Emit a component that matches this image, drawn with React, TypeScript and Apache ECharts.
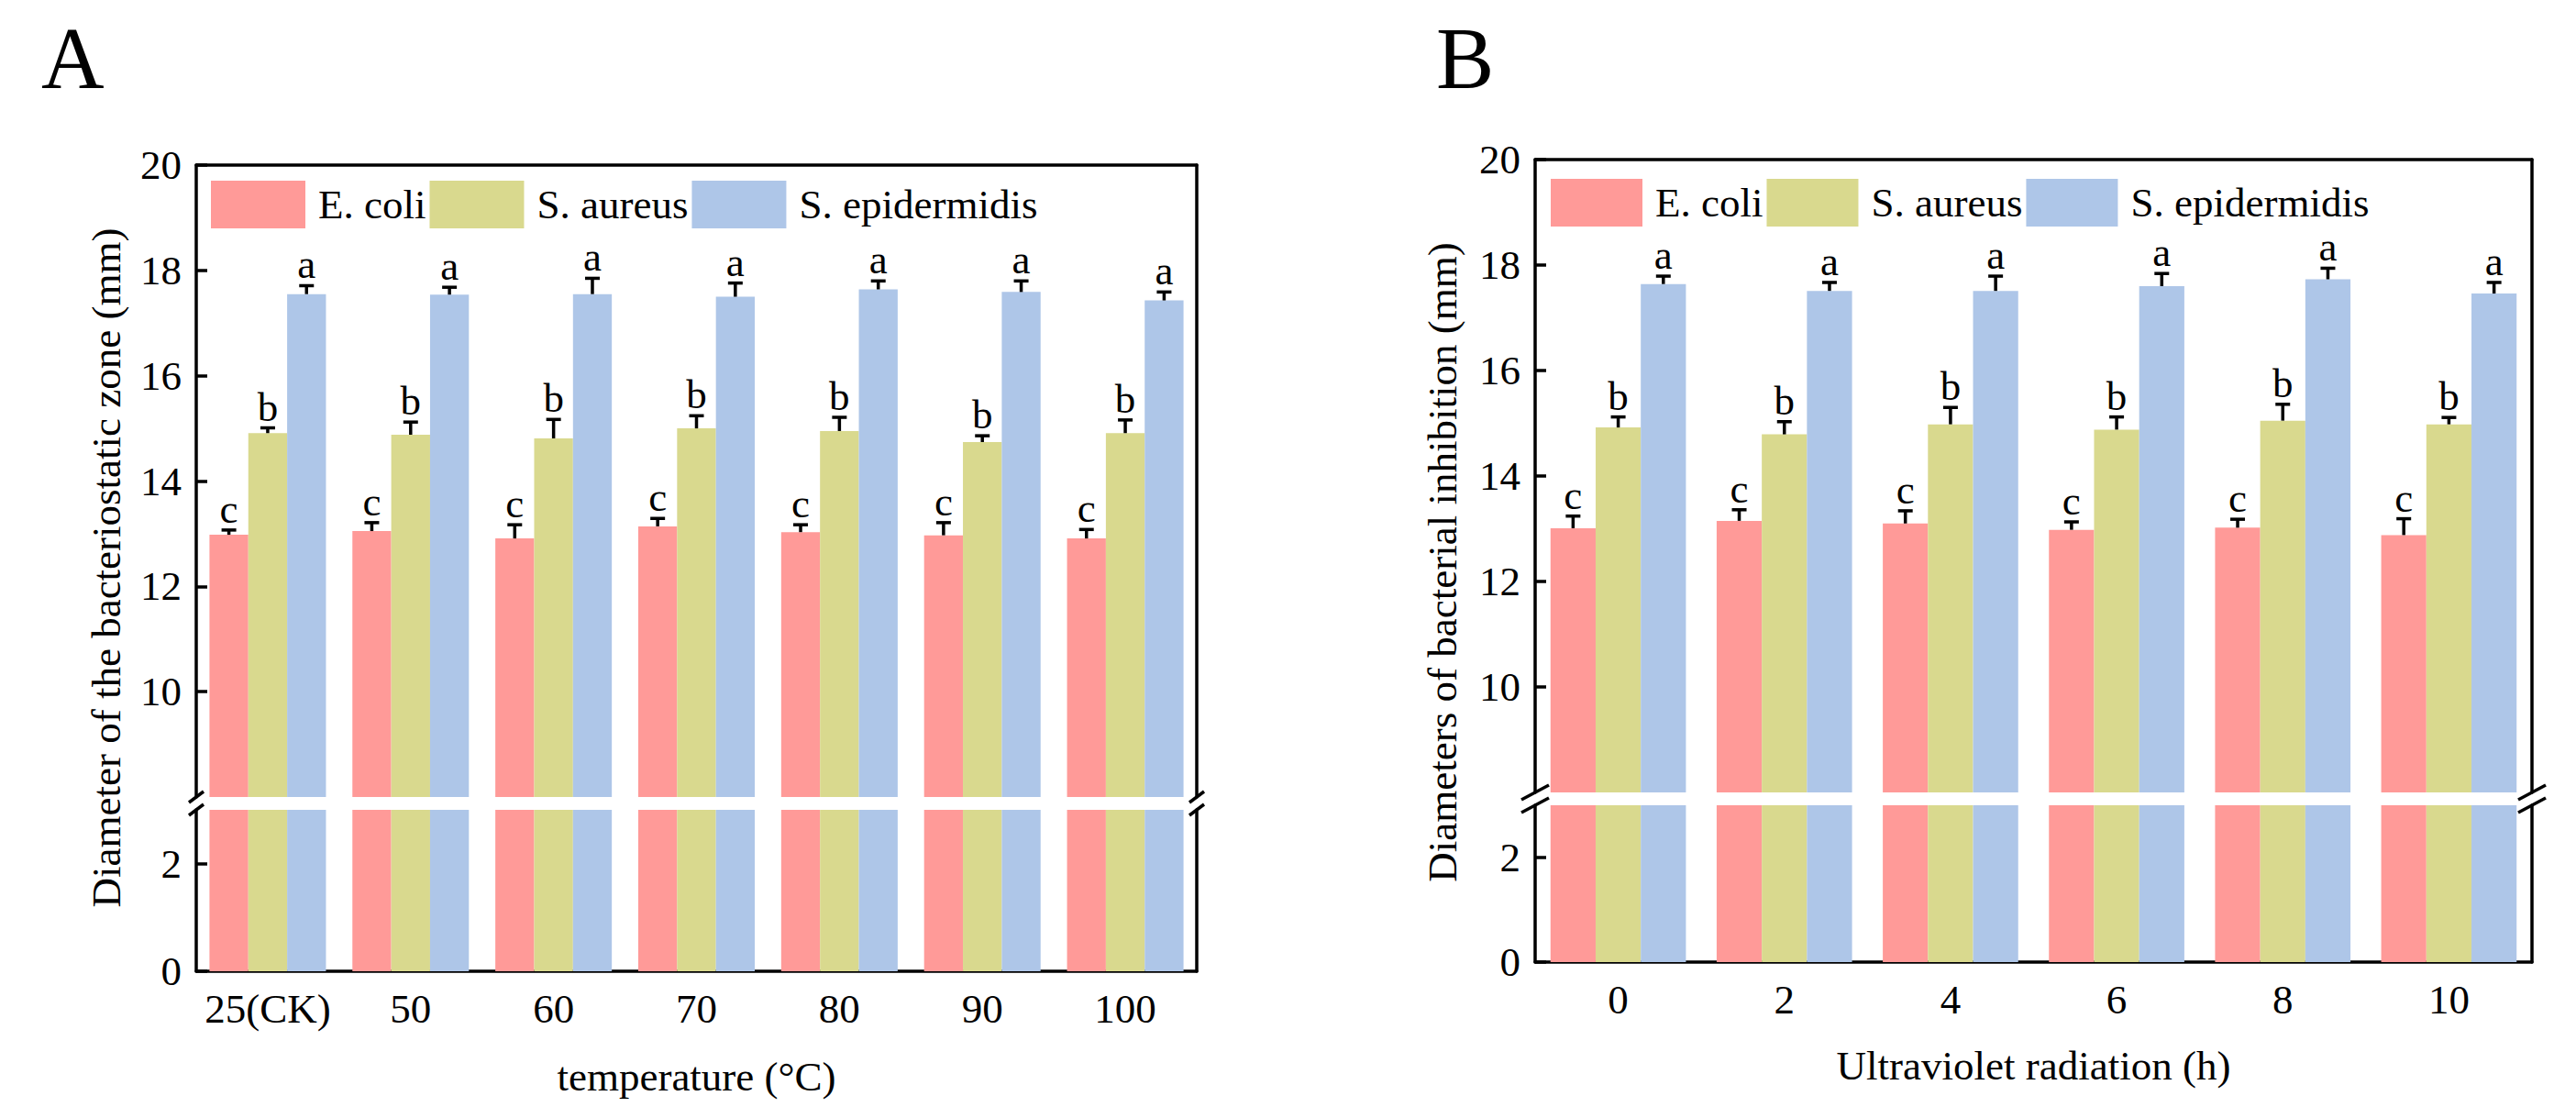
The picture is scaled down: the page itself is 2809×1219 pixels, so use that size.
import React, { useEffect, useRef } from "react";
import * as echarts from "echarts";

const FONT = "Liberation Serif, Times New Roman, serif";

const seriesNames = ["E. coli", "S. aureus", "S. epidermidis"];
const seriesColors = ["#FF9A98", "#D9D98E", "#AEC6E8"];
const letters = ["c", "b", "a"];

// Panel A: temperature
const tempCategories = ["25(CK)", "50", "60", "70", "80", "90", "100"];
const tempEcoli = [12.98, 13.05, 12.91, 13.14, 13.03, 12.97, 12.91];
const tempEcoliErr = [0.09, 0.16, 0.26, 0.15, 0.14, 0.24, 0.17];
const tempSaureus = [14.91, 14.88, 14.81, 15.0, 14.95, 14.74, 14.91];
const tempSaureusErr = [0.1, 0.24, 0.36, 0.24, 0.26, 0.12, 0.25];
const tempSepi = [17.55, 17.54, 17.55, 17.5, 17.64, 17.59, 17.43];
const tempSepiErr = [0.16, 0.14, 0.3, 0.26, 0.16, 0.21, 0.16];

// Panel B: ultraviolet radiation
const uvCategories = ["0", "2", "4", "6", "8", "10"];
const uvEcoli = [13.01, 13.15, 13.1, 12.98, 13.02, 12.88];
const uvEcoliErr = [0.23, 0.21, 0.24, 0.15, 0.16, 0.31];
const uvSaureus = [14.92, 14.79, 14.98, 14.88, 15.05, 14.98];
const uvSaureusErr = [0.2, 0.24, 0.32, 0.24, 0.31, 0.13];
const uvSepi = [17.64, 17.51, 17.51, 17.6, 17.73, 17.46];
const uvSepiErr = [0.15, 0.16, 0.28, 0.24, 0.21, 0.21];

const upperTicks = [10, 12, 14, 16, 18, 20];
const lowerTicks = [0, 2];

const GAP = 0.185;
const LW = 3.5;

function errorRender(pos: number, letter: string) {
  return (params: any, api: any) => {
    const cat = api.value(0);
    const v = api.value(1);
    const e = api.value(2);
    const p0 = api.coord([cat, v]);
    const p1 = api.coord([cat, v + e]);
    const band = api.size([1, 0])[0];
    const bw = (band * (1 - GAP)) / 3;
    const x = p0[0] + (pos - 1) * bw;
    return {
      type: "group",
      children: [
        { type: "line", shape: { x1: x, y1: p0[1], x2: x, y2: p1[1] }, style: { stroke: "#000", lineWidth: LW } },
        { type: "line", shape: { x1: x - 8, y1: p1[1], x2: x + 8, y2: p1[1] }, style: { stroke: "#000", lineWidth: LW } },
        {
          type: "text",
          style: {
            text: letter,
            x,
            y: p1[1] - 3,
            align: "center",
            verticalAlign: "bottom",
            fontSize: 45,
            lineHeight: 40,
            fontFamily: FONT,
            fill: "#000",
          },
        },
      ],
    };
  };
}

function breakRender(isUpper: boolean, hw: number, hh: number) {
  return (params: any) => {
    const cs = params.coordSys;
    const y = isUpper ? cs.y + cs.height : cs.y;
    const xs = [cs.x, cs.x + cs.width];
    return {
      type: "group",
      children: xs.map((x) => ({
        type: "line",
        shape: { x1: x - hw, y1: y + hh, x2: x + hw, y2: y - hh },
        style: { stroke: "#000", lineWidth: LW },
      })),
    };
  };
}

const tickLabel = { fontSize: 45, fontFamily: FONT, color: "#000" };

function buildPanel(
  gUpper: number,
  categories: string[],
  values: number[][],
  errors: number[][],
  xName: string,
  nameGap: number,
  breakSize: [number, number]
) {
  const gLower = gUpper + 1;
  const xAxis = [
    {
      type: "category",
      gridIndex: gUpper,
      data: categories,
      position: "top",
      axisLine: { show: true, onZero: false, lineStyle: { color: "#000", width: LW } },
      axisTick: { show: false },
      axisLabel: { show: false },
      splitLine: { show: false },
    },
    {
      type: "category",
      gridIndex: gLower,
      data: categories,
      position: "bottom",
      axisLine: { show: true, onZero: false, lineStyle: { color: "#000", width: LW } },
      axisTick: { show: false },
      axisLabel: { ...tickLabel, margin: 18, interval: 0 },
      name: xName,
      nameLocation: "middle",
      nameGap,
      nameTextStyle: { fontSize: 45, fontFamily: FONT, color: "#000" },
    },
  ];
  const mkY = (grid: number, min: number, max: number, ticks: number[], right: boolean) => ({
    type: "value",
    gridIndex: grid,
    min,
    max,
    interval: 2,
    position: right ? "right" : "left",
    axisLine: { show: true, lineStyle: { color: "#000", width: LW } },
    axisTick: right
      ? { show: false }
      : { show: true, inside: true, length: 12, customValues: ticks, lineStyle: { color: "#000", width: LW } },
    axisLabel: right ? { show: false } : { ...tickLabel, margin: 16, customValues: ticks },
    splitLine: { show: false },
  });
  const yAxis = [
    mkY(gUpper, 8, 20, upperTicks, false),
    mkY(gUpper, 8, 20, upperTicks, true),
    mkY(gLower, 0, 3, lowerTicks, false),
    mkY(gLower, 0, 3, lowerTicks, true),
  ];
  const series: any[] = [];
  [gUpper, gLower].forEach((g) => {
    values.forEach((vals, i) => {
      series.push({
        type: "bar",
        name: seriesNames[i],
        xAxisIndex: g,
        yAxisIndex: g * 2,
        data: vals,
        barGap: "0%",
        barCategoryGap: GAP * 100 + "%",
        itemStyle: { color: seriesColors[i] },
        clip: true,
      });
    });
  });
  values.forEach((vals, i) => {
    series.push({
      type: "custom",
      name: "err-" + i,
      xAxisIndex: gUpper,
      yAxisIndex: gUpper * 2,
      data: vals.map((v, k) => [k, v, errors[i][k]]),
      encode: { x: 0, y: 1 },
      renderItem: errorRender(i, letters[i]),
      z: 5,
    });
  });
  series.push({
    type: "custom",
    name: "break-up",
    xAxisIndex: gUpper,
    yAxisIndex: gUpper * 2,
    data: [[0, 8]],
    renderItem: breakRender(true, breakSize[0], breakSize[1]),
    z: 6,
  });
  series.push({
    type: "custom",
    name: "break-low",
    xAxisIndex: gLower,
    yAxisIndex: gLower * 2,
    data: [[0, 0]],
    renderItem: breakRender(false, breakSize[0], breakSize[1]),
    z: 6,
  });
  return { xAxis, yAxis, series };
}

export default function App() {
  const ref = useRef<HTMLDivElement>(null);
  useEffect(() => {
    document.body.style.margin = "0";
    if (!ref.current) return;
    const chart = echarts.init(ref.current, null, { renderer: "svg" });
    const A = buildPanel(
      0,
      tempCategories,
      [tempEcoli, tempSaureus, tempSepi],
      [tempEcoliErr, tempSaureusErr, tempSepiErr],
      "temperature (°C)",
      92,
      [8, 6]
    );
    const B = buildPanel(
      2,
      uvCategories,
      [uvEcoli, uvSaureus, uvSepi],
      [uvEcoliErr, uvSaureusErr, uvSepiErr],
      "Ultraviolet radiation (h)",
      90,
      [15, 8]
    );
    const legendBase = {
      data: seriesNames,
      orient: "horizontal",
      icon: "rect",
      itemGap: 4,
      itemHeight: 52,
      selectedMode: false,
      textStyle: { fontSize: 45, lineHeight: 40, fontFamily: FONT, color: "#000", padding: [0, 0, 0, 9] },
    };
    chart.setOption({
      animation: false,
      backgroundColor: "#fff",
      grid: [
        { left: 214, width: 1091, top: 180, height: 689 },
        { left: 214, width: 1091, top: 883, height: 176 },
        { left: 1674, width: 1087, top: 174, height: 690 },
        { left: 1674, width: 1087, top: 878, height: 171 },
      ],
      legend: [
        { ...legendBase, left: 225, top: 192, itemWidth: 103 },
        { ...legendBase, left: 1686, top: 190, itemWidth: 100 },
      ],
      xAxis: [...A.xAxis, ...B.xAxis],
      yAxis: [...A.yAxis, ...B.yAxis],
      series: [...A.series, ...B.series],
      graphic: [
        {
          type: "text",
          left: 45,
          top: 16,
          style: { text: "A", fontSize: 95, fontFamily: FONT, fill: "#000" },
        },
        {
          type: "text",
          left: 1566,
          top: 16,
          style: { text: "B", fontSize: 95, fontFamily: FONT, fill: "#000" },
        },
        {
          type: "text",
          x: 116,
          y: 619,
          rotation: Math.PI / 2,
          style: {
            text: "Diameter of the bacteriostatic zone (mm)",
            fontSize: 45,
            fontFamily: FONT,
            fill: "#000",
            align: "center",
            verticalAlign: "middle",
          },
        },
        {
          type: "text",
          x: 1573,
          y: 613,
          rotation: Math.PI / 2,
          style: {
            text: "Diameters of bacterial inhibition (mm)",
            fontSize: 45,
            fontFamily: FONT,
            fill: "#000",
            align: "center",
            verticalAlign: "middle",
          },
        },
      ],
    });
    return () => chart.dispose();
  }, []);
  return <div ref={ref} style={{ width: 2809, height: 1219 }} />;
}
